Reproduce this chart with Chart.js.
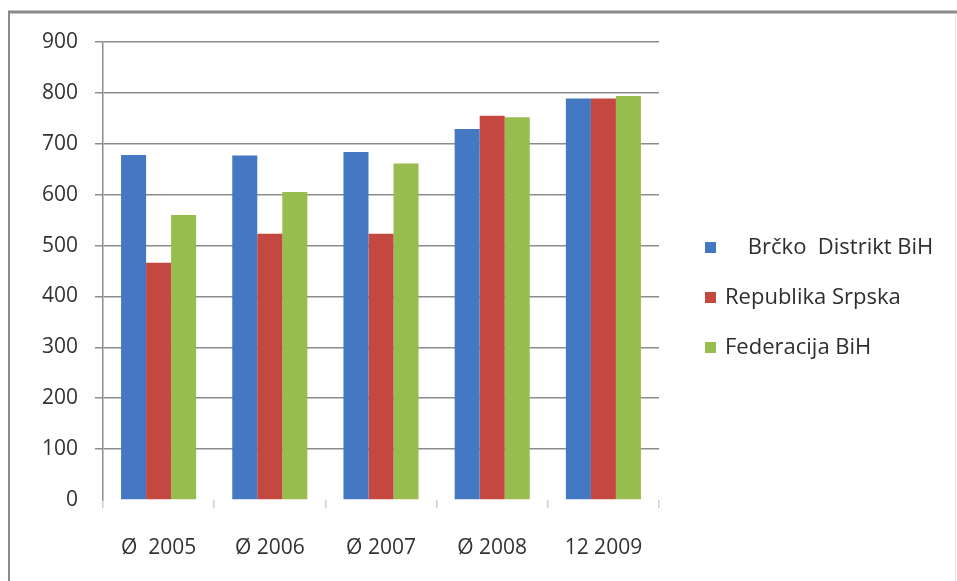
<!DOCTYPE html>
<html>
<head>
<meta charset="utf-8">
<title>Brčko, RS, FBiH</title>
<script src="https://cdn.jsdelivr.net/npm/chart.js@4.4.1/dist/chart.umd.min.js"></script>
<style>
  html, body { margin: 0; padding: 0; background: #fff; }
  #wrap { width: 957px; height: 581px; position: relative; }
</style>
</head>
<body>
<div id="wrap"><canvas id="chart"></canvas></div>
<script>
// values
const categories = ['Ø  2005', 'Ø 2006', 'Ø 2007', 'Ø 2008', '12 2009']
const seriesNames = ['    Brčko  Distrikt BiH', 'Republika Srpska', 'Federacija BiH']
const brcko = [678, 677, 684, 729, 789]
const srpska = [466, 523, 523, 755, 789]
const federacija = [560, 605, 661, 752, 794]
const yTicks = [0, 100, 200, 300, 400, 500, 600, 700, 800, 900]

const colors = ['#4478c2', '#c4483f', '#96bd4d']
const fontFamily = '"Open Sans", "DejaVu Sans", sans-serif'

// frame round the picture (grey top and left edge)
const framePlugin = {
  id: 'frame',
  beforeDraw(chart) {
    const { ctx, width, height } = chart
    ctx.save()
    ctx.fillStyle = '#fff'
    ctx.fillRect(0, 0, width, height)
    ctx.strokeStyle = '#8a8a8a'
    ctx.lineWidth = 3
    ctx.beginPath()
    ctx.moveTo(8, 12)
    ctx.lineTo(width, 12)
    ctx.stroke()
    ctx.lineWidth = 2
    ctx.beginPath()
    ctx.moveTo(9, 11)
    ctx.lineTo(9, height)
    ctx.stroke()
    ctx.strokeStyle = '#e4e4e4'
    ctx.lineWidth = 1
    ctx.beginPath()
    ctx.moveTo(955.5, 14)
    ctx.lineTo(955.5, height)
    ctx.stroke()
    ctx.restore()
  }
}

// legend on the right, like the Excel one
const sideLegend = {
  id: 'sideLegend',
  afterDraw(chart) {
    const { ctx, chartArea } = chart
    const x0 = chartArea.right + 46
    const y0 = 248
    ctx.save()
    ctx.font = '22px ' + fontFamily
    ctx.textBaseline = 'middle'
    chart.data.datasets.forEach((ds, i) => {
      const y = y0 + i * 50
      ctx.fillStyle = ds.backgroundColor
      ctx.fillRect(x0, y - 6, 11, 11)
      ctx.fillStyle = '#2e2e2e'
      ctx.fillText(ds.label, x0 + 20, y)
    })
    ctx.restore()
  }
}

// eslint-disable-next-line no-undef
new Chart(document.getElementById('chart').getContext('2d'), {
  type: 'bar',
  data: {
    labels: categories,
    datasets: [
      { label: seriesNames[0], data: brcko, backgroundColor: colors[0] },
      { label: seriesNames[1], data: srpska, backgroundColor: colors[1] },
      { label: seriesNames[2], data: federacija, backgroundColor: colors[2] }
    ]
  },
  options: {
    responsive: true,
    maintainAspectRatio: false,
    animation: false,
    layout: { padding: { left: 0, top: 42, right: 298, bottom: 0 } },
    datasets: { bar: { barPercentage: 1, categoryPercentage: 0.675 } },
    plugins: { legend: { display: false }, tooltip: { enabled: false } },
    scales: {
      x: {
        grid: { offset: true, drawOnChartArea: false, tickLength: 8, color: '#cfcfcf', lineWidth: 1.5 },
        border: { display: false },
        ticks: { padding: 27, color: '#333', font: { family: fontFamily, size: 21 } },
        afterFit(s) { s.height = 81 }
      },
      y: {
        min: 0,
        max: 900,
        afterBuildTicks(s) { s.ticks = yTicks.map(v => ({ value: v })) },
        grid: {
          tickLength: 8,
          lineWidth: 1.5,
          color: c => (c.tick && c.tick.value === 0 ? 'rgba(0,0,0,0)' : '#8c8c8c')
        },
        border: { display: true, color: '#8c8c8c', width: 1.5 },
        ticks: { padding: 17, color: '#333', font: { family: fontFamily, size: 21 } },
        afterFit(s) { s.width = 103 }
      }
    }
  },
  plugins: [framePlugin, sideLegend]
})
</script>
</body>
</html>
